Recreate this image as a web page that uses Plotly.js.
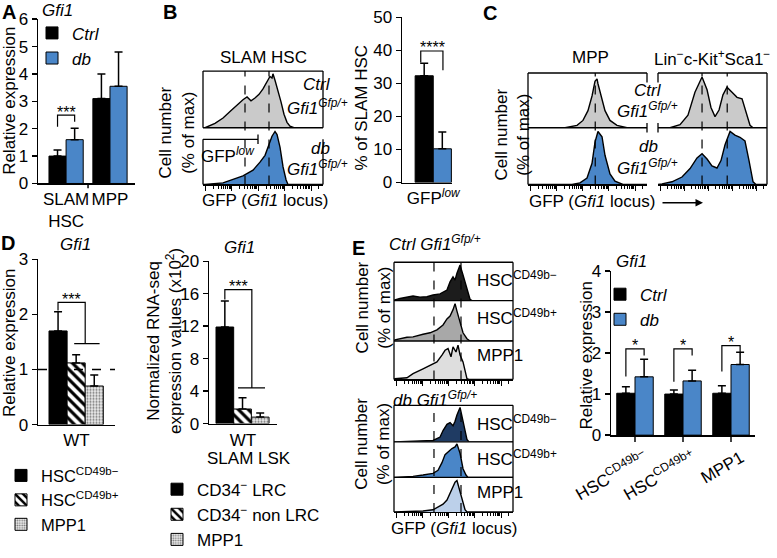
<!DOCTYPE html>
<html><head><meta charset="utf-8">
<script src="https://cdn.plot.ly/plotly-3.0.1.min.js"></script>
<style>html,body{margin:0;padding:0;background:#fff}#chart{width:777px;height:558px}</style>
</head><body><div id="chart"></div>
<script>
// ================= DATA =================
// Panel A
const aCategories = ['SLAM<br>HSC', 'MPP'];
const aCtrl = [1.0, 3.1];
const aCtrlErr = [0.22, 0.9];
const aDb = [1.6, 3.55];
const aDbErr = [0.42, 1.25];

// Panel B histograms (GFP axis 0-100, % of max)
const bCtrlX = [0, 1.7, 10, 16.7, 22.5, 28.3, 33.3, 36.7, 40, 43.3, 46.7, 50, 52.5, 54.2, 55, 55.8, 57.5, 58.3, 60, 62.5, 65, 67.5, 70, 72.5, 75.8, 100];
const bCtrlY = [0, 0, 8, 18, 30, 42, 52, 57, 50, 55, 62, 72, 82, 88, 92, 95, 92, 100, 88, 70, 48, 25, 10, 3, 0, 0];
const bDbX = [0, 1.7, 16.7, 25, 33.3, 41.7, 47.5, 51.7, 53.3, 55, 57.5, 60, 61.7, 64.2, 66.7, 69.2, 70.8, 100];
const bDbY = [0, 0, 3, 9, 16, 27, 42, 55, 64, 76, 91, 100, 94, 70, 33, 9, 0, 0];
const bGates = [35, 55];
// Panel B bars
const bCategory = ['GFP<sup><i>low</i></sup>'];
const bCtrl = [32.3];
const bCtrlErr = [3.8];
const bDb = [10.2];
const bDbErr = [5.1];

// Panel C histograms
const mppCtrlX = [0, 31.1, 41.2, 46.2, 50.4, 53.8, 56.3, 58, 58.8, 62.2, 64.7, 68.9, 74.8, 83.2, 100];
const mppCtrlY = [0, 0, 5, 15, 35, 65, 95, 100, 90, 60, 35, 15, 5, 0, 0];
const mppDbX = [0, 37, 43.7, 49.6, 53.8, 56.3, 58.8, 62.2, 64.7, 68.9, 73.1, 79.8, 100];
const mppDbY = [0, 0, 3, 12, 40, 80, 100, 90, 55, 20, 6, 0, 0];
const linCtrlX = [0, 11, 20.2, 27.5, 33.9, 40.4, 45, 48.6, 52.3, 56, 59.6, 63.3, 67.9, 72.5, 77.1, 80.7, 84.4, 87.2, 100];
const linCtrlY = [0, 0, 6, 25, 70, 100, 75, 40, 22, 35, 65, 80, 70, 60, 57, 30, 5, 0, 0];
const linDbX = [0, 3.7, 12.8, 22, 29.4, 35.8, 40.4, 45, 49.5, 54.1, 57.8, 61.5, 66.1, 70.6, 75.2, 79.8, 83.5, 87.2, 89.9, 100];
const linDbY = [0, 1, 5, 14, 30, 50, 58, 48, 35, 31, 45, 75, 100, 93, 89, 82, 45, 5, 0, 0];
const mppGates = [56.5];
const linGates = [40.4, 63.5];

// Panel D
const dCategory = ['WT'];
const dNames = ['HSC<sup>CD49b\u2212</sup>', 'HSC<sup>CD49b+</sup>', 'MPP1'];
const dValues = [1.7, 1.12, 0.7];
const dErr = [0.35, 0.15, 0.2];
const dRefLevel = 1;
const d2Category = ['WT'];
const d2Names = ['CD34<sup>\u2212</sup> LRC', 'CD34<sup>\u2212</sup> non LRC', 'MPP1'];
const d2Values = [11.9, 1.8, 0.8];
const d2Err = [3.2, 1.4, 0.5];

// Panel E histograms
const eCtrlNegX = [0, 0.8, 5, 9.2, 16, 21.8, 27.7, 32.8, 38.7, 44.5, 47.1, 49.6, 51.3, 52.9, 55.5, 58, 59.7, 61.3, 63.9, 65.5, 100];
const eCtrlNegY = [0, 2, 6, 8, 13, 10, 11, 16, 19, 30, 53, 67, 58, 77, 100, 72, 53, 30, 4, 0, 0];
const eCtrlPosX = [0, 0.8, 10.9, 16, 24.4, 30.3, 36.1, 41.2, 44.5, 47.1, 49.6, 51.3, 52.9, 55.5, 58, 61.3, 63.9, 100];
const eCtrlPosY = [0, 3, 10, 11, 18, 22, 30, 43, 59, 67, 84, 100, 80, 51, 22, 6, 0, 0];
const eCtrlMppX = [0, 0.8, 10.9, 16, 24.4, 30.3, 36.1, 40.3, 42.9, 45.4, 47.9, 49.6, 52.1, 53.8, 55.5, 58, 59.7, 61.3, 63, 100];
const eCtrlMppY = [0, 2, 5, 17, 31, 41, 51, 71, 85, 90, 66, 95, 80, 100, 71, 51, 22, 2, 0, 0];
const eDbNegX = [0, 10, 27.7, 32.8, 38.7, 41.2, 44.5, 47.1, 49.6, 51.3, 52.9, 55.5, 58, 59.7, 61.3, 63, 100];
const eDbNegY = [0, 1, 3, 4, 14, 33, 51, 56, 47, 60, 78, 100, 60, 29, 7, 0, 0];
const eDbPosX = [0, 16, 24.4, 32.8, 37, 40.3, 42.9, 45.4, 48.7, 51.3, 52.9, 55.5, 58, 60.5, 62.2, 100];
const eDbPosY = [0, 3, 7, 12, 21, 44, 68, 77, 86, 91, 100, 72, 26, 7, 0, 0];
const eDbMppX = [0, 24.4, 32.8, 37, 41.2, 44.5, 47.1, 49.6, 51.3, 52.9, 53.8, 55.5, 58, 59.7, 61.3, 100];
const eDbMppY = [0, 3, 7, 16, 25, 38, 60, 82, 95, 100, 87, 69, 34, 7, 0, 0];
const eGates = [33.6, 56.3];
const eHistLabels = ['HSC<sup>CD49b\u2212</sup>', 'HSC<sup>CD49b+</sup>', 'MPP1'];

// Panel E bars
const eCategories = ['HSC<sup>CD49b\u2212</sup>', 'HSC<sup>CD49b+</sup>', 'MPP1'];
const eCtrl = [1.02, 1.0, 1.02];
const eCtrlErr = [0.16, 0.1, 0.18];
const eDb = [1.42, 1.32, 1.72];
const eDbErr = [0.43, 0.26, 0.3];

// ================= HELPERS =================
const W = 777, H = 558;
const FONT = 'Liberation Sans, Arial, Helvetica, sans-serif';
const BLUE = '#4a86c8';
const px = v => v / W;
const py = v => 1 - v / H;
const dx = (a, b) => [a / W, b / W];
const dy = (t, b) => [1 - b / H, 1 - t / H];
const idx = arr => arr.map((_, i) => i);

const errStyle = arr => ({type: 'data', symmetric: false, array: arr, arrayminus: arr.map(() => 0),
  color: '#000', thickness: 1.5, width: 4, visible: true});

function logTicks(start, width) {
  const major = [], minor = [];
  for (let d = 0; d < 5; d++) for (let k = 1; k <= 9; k++) {
    const v = start + width * (d + Math.log10(k));
    if (v > 100) continue;
    (k === 1 ? major : minor).push(v);
  }
  return {major, minor};
}
const LT = logTicks(2, 22);

function histX(domain, anchor, showAxis) {
  const a = {domain, anchor, range: [0, 100], showgrid: false, zeroline: false, fixedrange: true};
  if (showAxis) {
    Object.assign(a, {showline: true, linecolor: '#000', linewidth: 1.3, ticks: 'outside',
      tickmode: 'array', tickvals: LT.major, ticklen: 5, tickwidth: 1, tickcolor: '#000', showticklabels: false,
      minor: {tickmode: 'array', tickvals: LT.minor, ticks: 'outside', ticklen: 3, tickwidth: 1, tickcolor: '#000'}});
  } else {
    a.visible = false;
  }
  return a;
}
const histY = (domain, anchor, top) => ({domain, anchor, range: [0, top], visible: false, fixedrange: true});

function barY(domain, anchor, range, dtick) {
  return {domain, anchor, range, dtick, tick0: 0, showline: true, linecolor: '#000', linewidth: 1.5,
    ticks: 'outside', ticklen: 5, tickwidth: 1.5, tickcolor: '#000', showgrid: false, zeroline: false,
    tickfont: {family: FONT, size: 17, color: '#000'}, automargin: false, fixedrange: true};
}
function barX(domain, anchor, range, cats, extra) {
  return Object.assign({domain, anchor, range, tickmode: 'array', tickvals: idx(cats), ticktext: cats,
    showline: true, linecolor: '#000', linewidth: 1.5, ticks: '', showgrid: false, zeroline: false,
    tickfont: {family: FONT, size: 17, color: '#000'}, automargin: false, fixedrange: true}, extra || {});
}

function hist(x, y, xa, ya, fill) {
  return {type: 'scatter', mode: 'lines', x, y, xaxis: xa, yaxis: ya, fill: 'tozeroy', fillcolor: fill,
    line: {color: '#000', width: 1.4}, showlegend: false, hoverinfo: 'skip'};
}
function bar(x, y, err, xa, ya, name, marker, offset, width, legend, showlegend) {
  return {type: 'bar', x, y, xaxis: xa, yaxis: ya, name, marker, offset, width, legendgroup: legend + name,
    error_y: errStyle(err), legend, showlegend: showlegend !== false, hoverinfo: 'skip'};
}
const solid = c => ({color: c, line: {color: '#000', width: 1}});
const hatch = {color: '#fff', line: {color: '#000', width: 1},
  pattern: {shape: '\\', fgcolor: '#000', bgcolor: '#fff', size: 7, solidity: 0.45}};
const dots = {color: '#eee', line: {color: '#000', width: 1},
  pattern: {shape: '.', fgcolor: '#777', bgcolor: '#eee', size: 3, solidity: 0.4}};

// ================= TRACES =================
const traces = [
  // A
  bar(idx(aCategories), aCtrl, aCtrlErr, 'x', 'y', '<i>Ctrl</i>', solid('#000'), -0.39, 0.39, 'legend'),
  bar(idx(aCategories), aDb, aDbErr, 'x', 'y', '<i>db</i>', solid(BLUE), 0, 0.39, 'legend'),
  // B histograms
  hist(bCtrlX, bCtrlY, 'x2', 'y2', '#cacaca'),
  hist(bDbX, bDbY, 'x3', 'y3', BLUE),
  // B bars
  bar(idx(bCategory), bCtrl, bCtrlErr, 'x4', 'y4', 'Ctrl', solid('#000'), -0.29, 0.29, 'legend', false),
  bar(idx(bCategory), bDb, bDbErr, 'x4', 'y4', 'db', solid(BLUE), 0, 0.29, 'legend', false),
  // C
  hist(mppCtrlX, mppCtrlY, 'x5', 'y5', '#cacaca'),
  hist(mppDbX, mppDbY, 'x6', 'y6', BLUE),
  hist(linCtrlX, linCtrlY, 'x7', 'y7', '#cacaca'),
  hist(linDbX, linDbY, 'x8', 'y8', BLUE),
  // D left
  bar(idx(dCategory), [dValues[0]], [dErr[0]], 'x9', 'y9', dNames[0], solid('#000'), -0.357, 0.235, 'legend3'),
  bar(idx(dCategory), [dValues[1]], [dErr[1]], 'x9', 'y9', dNames[1], hatch, -0.122, 0.235, 'legend3'),
  bar(idx(dCategory), [dValues[2]], [dErr[2]], 'x9', 'y9', dNames[2], dots, 0.113, 0.235, 'legend3'),
  // D right
  bar(idx(d2Category), [d2Values[0]], [d2Err[0]], 'x10', 'y10', d2Names[0], solid('#000'), -0.397, 0.26, 'legend4'),
  bar(idx(d2Category), [d2Values[1]], [d2Err[1]], 'x10', 'y10', d2Names[1], hatch, -0.137, 0.26, 'legend4'),
  bar(idx(d2Category), [d2Values[2]], [d2Err[2]], 'x10', 'y10', d2Names[2], dots, 0.123, 0.26, 'legend4'),
  // E histograms
  hist(eCtrlNegX, eCtrlNegY, 'x11', 'y11', '#1c1c1c'),
  hist(eCtrlPosX, eCtrlPosY, 'x12', 'y12', '#a8a8a8'),
  hist(eCtrlMppX, eCtrlMppY, 'x13', 'y13', '#dedede'),
  hist(eDbNegX, eDbNegY, 'x14', 'y14', '#1f3b63'),
  hist(eDbPosX, eDbPosY, 'x15', 'y15', BLUE),
  hist(eDbMppX, eDbMppY, 'x16', 'y16', '#bcd0ea'),
  // E bars
  bar(idx(eCategories), eCtrl, eCtrlErr, 'x17', 'y17', '<i>Ctrl</i>', solid('#000'), -0.38, 0.38, 'legend2'),
  bar(idx(eCategories), eDb, eDbErr, 'x17', 'y17', '<i>db</i>', solid(BLUE), 0, 0.38, 'legend2'),
];

// ================= SHAPES =================
const shapes = [];
const L = (x0, y0, x1, y1, w) => shapes.push({type: 'line', xref: 'paper', yref: 'paper',
  x0: px(x0), y0: py(y0), x1: px(x1), y1: py(y1), line: {color: '#000', width: w || 1.3}, layer: 'above'});
const gate = (xref, g, top, bot) => shapes.push({type: 'line', xref, yref: 'paper', x0: g, x1: g,
  y0: py(bot), y1: py(top), line: {color: '#000', width: 1.2, dash: 'dash'}, layer: 'above'});
const bracket = (ax, x1, y1, x2, y2, top) => shapes.push({type: 'path', xref: 'x' + ax, yref: 'y' + ax,
  path: `M${x1},${y1} L${x1},${top} L${x2},${top} L${x2},${y2}`, line: {color: '#000', width: 1.2}, layer: 'above'});

// A category-boundary tick
shapes.push({type: 'line', xref: 'x', yref: 'paper', x0: 0.5, x1: 0.5, y0: py(191), y1: py(196), line: {color: '#000', width: 1.5}});
// B frames
L(203, 74, 323, 74); L(203, 74, 203, 133); L(323, 74, 323, 133); L(203, 133, 323, 133);
L(203, 145, 203, 192); L(323, 145, 323, 192);
L(203, 145, 258, 145); L(258, 140, 258, 150);
bGates.forEach(g => gate('x2', g, 74, 192));
// C frames
L(528, 76, 647, 76); L(528, 76, 528, 192); L(528, 133, 647, 133);
L(647, 76, 647, 86); L(647, 128, 647, 138);
L(658, 76, 767, 76); L(767, 76, 767, 192); L(658, 133, 767, 133);
L(658, 76, 658, 86); L(658, 128, 658, 138);
mppGates.forEach(g => gate('x5', g, 76, 192));
linGates.forEach(g => gate('x7', g, 76, 192));
// E frames
L(394, 273, 513, 273); L(394, 273, 394, 395); L(513, 273, 513, 395); L(394, 313, 513, 313); L(394, 355, 513, 355);
L(394, 422, 513, 422); L(394, 422, 394, 533); L(513, 422, 513, 533); L(394, 460, 513, 460); L(394, 497, 513, 497);
eGates.forEach(g => { gate('x11', g, 273, 395); gate('x14', g, 422, 533); });
// D reference line
shapes.push({type: 'line', xref: 'x9 domain', yref: 'y9', x0: 0, x1: 1, y0: dRefLevel, y1: dRefLevel,
  line: {color: '#000', width: 1.3, dash: 'dash'}, layer: 'above'});
// significance brackets
bracket('', -0.195, 2.07, 0.195, 2.25, 2.5);
bracket('4', -0.2, 36.3, 0.155, 34, 39.8);
bracket('9', -0.24, 2.07, 0.113, 1.47, 2.22);
shapes.push({type: 'line', xref: 'x9', yref: 'y9', x0: -0.03, x1: 0.3, y0: 1.47, y1: 1.47, line: {color: '#000', width: 1.2}});
bracket('10', -0.267, 15.3, 0.13, 4.4, 16.5);
shapes.push({type: 'line', xref: 'x10', yref: 'y10', x0: -0.074, x1: 0.324, y0: 4.4, y1: 4.4, line: {color: '#000', width: 1.2}});
bracket('17', -0.19, 1.43, 0.19, 1.94, 2.1);
bracket('17', 0.81, 1.3, 1.19, 1.94, 2.1);
bracket('17', 1.81, 1.55, 2.19, 2.0, 2.18);

// ================= ANNOTATIONS =================
const annotations = [];
const T = (text, x, y, o) => annotations.push(Object.assign({text, x: px(x), y: py(y), xref: 'paper', yref: 'paper',
  showarrow: false, xanchor: 'center', yanchor: 'middle', font: {family: FONT, size: 17, color: '#000'}}, o || {}));
const big = {font: {family: FONT, size: 20, color: '#000'}};
T('<b>A</b>', 9, 12, big); T('<b>B</b>', 170, 12, big); T('<b>C</b>', 490, 14, big);
T('<b>D</b>', 8, 253, big); T('<b>E</b>', 358, 258, big);
// titles
T('<i>Gfi1</i>', 57, 11); T('SLAM HSC', 263, 60); T('MPP', 590, 60);
T('Lin<sup>\u2212</sup>c-Kit<sup>+</sup>Sca1<sup>\u2212</sup>', 712, 60);
T('<i>Gfi1</i>', 75, 255); T('<i>Gfi1</i>', 239, 258); T('<i>Gfi1</i>', 631, 272);
T('<i>Ctrl Gfi1</i><sup><i>Gfp/+</i></sup>', 435, 253); T('<i>db Gfi1</i><sup><i>Gfp/+</i></sup>', 435, 415);
// y titles
const rot = {textangle: -90};
T('Relative expression', 10, 105, rot);
T('Cell number<br>(% of max)', 177, 138, rot);
T('% of SLAM HSC', 362, 112, rot);
T('Cell number<br>(% of max)', 512, 140, rot);
T('Relative expression', 10, 357, rot);
T('Normalized RNA-seq<br>expression values (x10<sup>2</sup>)', 164, 355, rot);
T('Cell number<br>(% of max)', 373, 320, rot);
T('Cell number<br>(% of max)', 373, 462, rot);
T('Relative expression', 586, 370, rot);
// hist labels
T('<i>Ctrl</i>', 317, 88); T('<i>Gfi1</i><sup><i>Gfp/+</i></sup>', 317, 111);
T('<i>db</i>', 320, 155); T('<i>Gfi1</i><sup><i>Gfp/+</i></sup>', 317, 175);
T('GFP<sup><i>low</i></sup>', 228, 161);
T('GFP (<i>Gfi1</i> locus)', 265, 209);
T('<i>Ctrl</i>', 648, 94); T('<i>Gfi1</i><sup><i>Gfp/+</i></sup>', 647, 114);
T('<i>db</i>', 648, 152); T('<i>Gfi1</i><sup><i>Gfp/+</i></sup>', 647, 174);
T('GFP (<i>Gfi1</i> locus)', 592, 210);
annotations.push({text: '', x: px(703), y: py(211), xref: 'paper', yref: 'paper', showarrow: true,
  ax: -42, ay: 0, axref: 'pixel', ayref: 'pixel', arrowhead: 2, arrowsize: 1, arrowwidth: 1.5, arrowcolor: '#000'});
[290, 330, 370].forEach((y, i) => T(eHistLabels[i], 475, y, {xanchor: 'left'}));
[440, 477, 513].forEach((y, i) => T(eHistLabels[i], 475, y, {xanchor: 'left'}));
T('GFP (<i>Gfi1</i> locus)', 454, 550);
T('SLAM LSK', 249, 477);
// stars
const S = (ax, text, x, y) => annotations.push({text, x, y, xref: 'x' + ax, yref: 'y' + ax, showarrow: false,
  xanchor: 'center', yanchor: 'middle', yshift: 3, font: {family: FONT, size: 16, color: '#000'}});
S('', '***', 0, 2.5);
S('4', '****', -0.02, 39.8);
S('9', '***', -0.06, 2.22);
S('10', '***', -0.066, 16.5);
S('17', '*', 0, 2.1); S('17', '*', 1, 2.1); S('17', '*', 2, 2.18);

// ================= LAYOUT =================
const legBase = {xanchor: 'left', yanchor: 'top', bgcolor: 'rgba(0,0,0,0)', borderwidth: 0,
  font: {family: FONT, size: 17, color: '#000'}, itemwidth: 30, tracegroupgap: 0, traceorder: 'normal'};

const layout = {
  width: W, height: H, margin: {l: 0, r: 0, t: 0, b: 0}, paper_bgcolor: '#fff', plot_bgcolor: 'rgba(0,0,0,0)',
  font: {family: FONT, size: 17, color: '#000'}, barmode: 'overlay', showlegend: true,
  legend: Object.assign({}, legBase, {x: px(32), y: py(16), tracegroupgap: 0}),
  legend2: Object.assign({}, legBase, {x: px(600), y: py(288), tracegroupgap: 0}),
  legend3: Object.assign({}, legBase, {x: px(1), y: py(477), tracegroupgap: 0, font: {family: FONT, size: 16.5, color: '#000'}}),
  legend4: Object.assign({}, legBase, {x: px(157), y: py(491), tracegroupgap: 2}),
  xaxis: barX(dx(38, 135), 'y', [-0.64, 1.57], aCategories),
  yaxis: barY(dy(20, 191), 'x', [0, 6], 1),
  xaxis2: histX(dx(203, 323), 'y2', false), yaxis2: histY(dy(74, 133), 'x2', 105),
  xaxis3: histX(dx(203, 323), 'y3', true), yaxis3: histY(dy(133, 192), 'x3', 107),
  xaxis4: barX(dx(402, 452), 'y4', [-0.5, 0.3], bCategory),
  yaxis4: barY(dy(18, 190), 'x4', [0, 50], 10),
  xaxis5: histX(dx(528, 647), 'y5', false), yaxis5: histY(dy(76, 133), 'x5', 112),
  xaxis6: histX(dx(528, 647), 'y6', true), yaxis6: histY(dy(133, 192), 'x6', 107),
  xaxis7: histX(dx(658, 767), 'y7', false), yaxis7: histY(dy(76, 133), 'x7', 108),
  xaxis8: histX(dx(658, 767), 'y8', true), yaxis8: histY(dy(133, 192), 'x8', 107),
  xaxis9: barX(dx(38, 115), 'y9', [-0.5, 0.5], dCategory),
  yaxis9: barY(dy(270, 442), 'x9', [0, 3], 1),
  xaxis10: barX(dx(209, 277), 'y10', [-0.5, 0.5], d2Category),
  yaxis10: barY(dy(272, 441), 'x10', [0, 20], 4),
  xaxis11: histX(dx(394, 513), 'y11', false), yaxis11: histY(dy(273, 313), 'x11', 108),
  xaxis12: histX(dx(394, 513), 'y12', false), yaxis12: histY(dy(313, 355), 'x12', 108),
  xaxis13: histX(dx(394, 513), 'y13', true), yaxis13: histY(dy(355, 395), 'x13', 112),
  xaxis14: histX(dx(394, 513), 'y14', false), yaxis14: histY(dy(422, 460), 'x14', 106),
  xaxis15: histX(dx(394, 513), 'y15', false), yaxis15: histY(dy(460, 497), 'x15', 106),
  xaxis16: histX(dx(394, 513), 'y16', true), yaxis16: histY(dy(497, 533), 'x16', 110),
  xaxis17: barX(dx(611, 755), 'y17', [-0.5, 2.5], eCategories, {tickangle: -30, ticks: 'outside', tickson: 'boundaries', ticklen: 5, tickwidth: 1.5, ticklabelshift: 10}),
  yaxis17: barY(dy(282, 453), 'x17', [0, 4], 1),
  shapes, annotations
};

Plotly.newPlot('chart', traces, layout, {staticPlot: true, displayModeBar: false});
</script></body></html>
